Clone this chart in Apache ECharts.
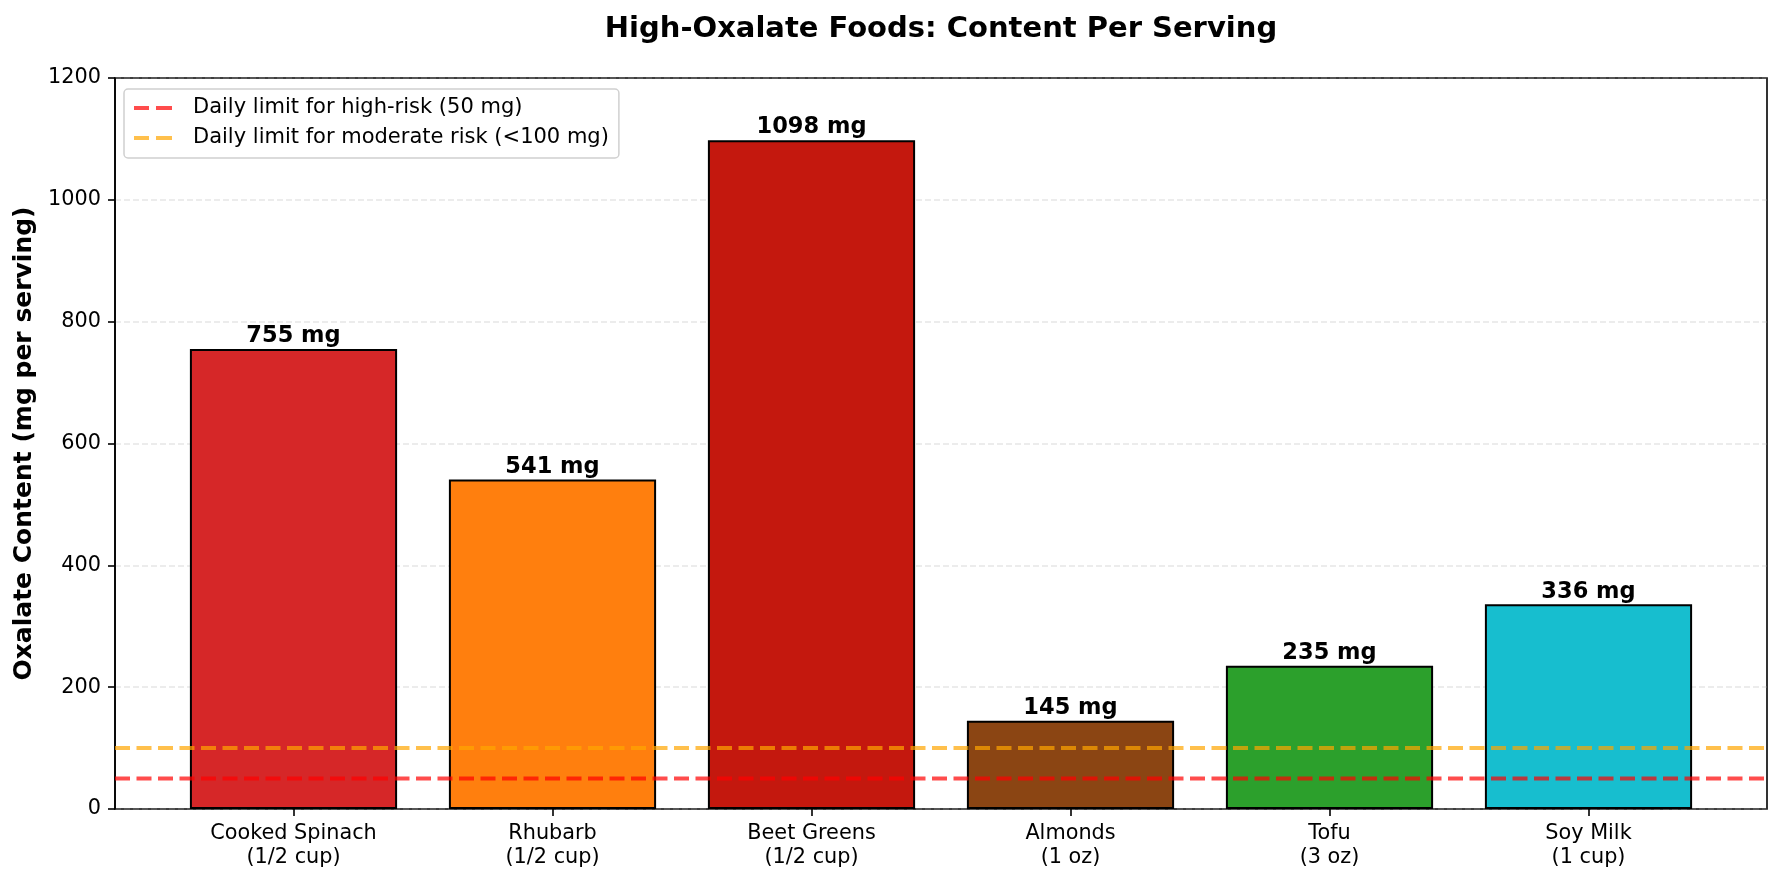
<!DOCTYPE html>
<html>
<head>
<meta charset="utf-8">
<script src="https://cdn.jsdelivr.net/npm/echarts@6/dist/echarts.min.js"></script>
<style>
  html, body { margin: 0; padding: 0; background: #fff; }
  #chart { width: 1782px; height: 882px; }
</style>
</head>
<body>
<div id="chart"></div>
<script>
// values
const foods = ["Cooked Spinach\n(1/2 cup)", "Rhubarb\n(1/2 cup)", "Beet Greens\n(1/2 cup)", "Almonds\n(1 oz)", "Tofu\n(3 oz)", "Soy Milk\n(1 cup)"];
const oxalateMg = [755, 541, 1098, 145, 235, 336];
const barColors = ["#d62728", "#ff7f0e", "#c4180e", "#8b4513", "#2ca02c", "#17becf"];
const limitNames = ["Daily limit for high-risk (50 mg)", "Daily limit for moderate risk (<100 mg)"];
const limitValues = [50, 100];
const limitColors = ["rgba(255,0,0,0.7)", "rgba(255,165,0,0.7)"];
const yTicks = { min: 0, max: 1200, interval: 200 };

const FONT = "DejaVu Sans";
// two short dashes for the legend swatch
const DASH_ICON = "path://M0,0h15v4h-15z M22,0h16v4h-16z";

const chart = echarts.init(document.getElementById("chart"), null, { renderer: "canvas" });

const limitSeries = limitValues.map((v, i) => ({
  name: limitNames[i],
  type: "line",
  xAxisIndex: 0,
  yAxisIndex: 0,
  symbol: "none",
  silent: true,
  z: 10,
  lineStyle: { color: limitColors[i], width: 4, type: [15, 6.5] },
  itemStyle: { color: limitColors[i] },
  data: [[0, v], [1, v]]
}));

const option = {
  backgroundColor: "#fff",
  animation: false,
  textStyle: { fontFamily: FONT },
  title: {
    text: "High-Oxalate Foods: Content Per Serving",
    left: 936,
    textAlign: "center",
    top: 10,
    textStyle: { fontFamily: FONT, fontSize: 29, fontWeight: "bold", color: "#000" }
  },
  legend: {
    orient: "vertical",
    left: 124,
    top: 89,
    data: limitNames.map((n) => ({ name: n, icon: DASH_ICON })),
    itemWidth: 38,
    itemHeight: 4,
    itemGap: 8,
    padding: [8, 10, 9, 10],
    backgroundColor: "#fff",
    borderColor: "#d0d0d0",
    borderWidth: 1.5,
    borderRadius: 4,
    textStyle: { fontFamily: FONT, fontSize: 21, color: "#000", lineHeight: 22, padding: [0, 0, 0, 16] }
  },
  grid: [
    { left: 115, right: 15, top: 78, bottom: 73, show: true, borderColor: "#000", borderWidth: 1.6, backgroundColor: "transparent" },
    { left: 164, right: 64, top: 78, bottom: 73 }
  ],
  xAxis: [
    { gridIndex: 0, type: "value", min: 0, max: 1, show: false },
    {
      gridIndex: 1,
      type: "category",
      data: foods,
      axisLine: { show: false },
      axisTick: { show: true, alignWithLabel: true, length: 7, lineStyle: { color: "#000", width: 1.6 } },
      axisLabel: { fontFamily: FONT, fontSize: 20.8, color: "#000", lineHeight: 24, margin: 13 }
    }
  ],
  yAxis: [
    {
      gridIndex: 0,
      type: "value",
      min: yTicks.min,
      max: yTicks.max,
      interval: yTicks.interval,
      name: "Oxalate Content (mg per serving)",
      nameLocation: "middle",
      nameGap: 76,
      nameTextStyle: { fontFamily: FONT, fontSize: 25, fontWeight: "bold", color: "#000" },
      axisLine: { show: true, lineStyle: { color: "#000", width: 1.6 } },
      axisTick: { show: true, length: 7, lineStyle: { color: "#000", width: 1.6 } },
      axisLabel: { fontFamily: FONT, fontSize: 20.8, color: "#000", margin: 14, formatter: (v) => String(v) },
      splitLine: { show: true, lineStyle: { color: "rgba(176,176,176,0.3)", width: 1.6, type: [6, 3] } }
    },
    { gridIndex: 1, type: "value", min: yTicks.min, max: yTicks.max, interval: yTicks.interval, show: false }
  ],
  series: [
    {
      name: "Oxalate",
      type: "bar",
      xAxisIndex: 1,
      yAxisIndex: 1,
      barWidth: "80%",
      z: 3,
      data: oxalateMg.map((v, i) => ({
        value: v,
        itemStyle: { color: barColors[i], borderColor: "#000", borderWidth: 2 }
      })),
      label: {
        show: true,
        position: "top",
        distance: 1,
        formatter: (p) => p.value + " mg",
        fontFamily: FONT,
        fontSize: 22.5,
        fontWeight: "bold",
        color: "#000"
      }
    },
    ...limitSeries
  ]
};

chart.setOption(option);
</script>
</body>
</html>
